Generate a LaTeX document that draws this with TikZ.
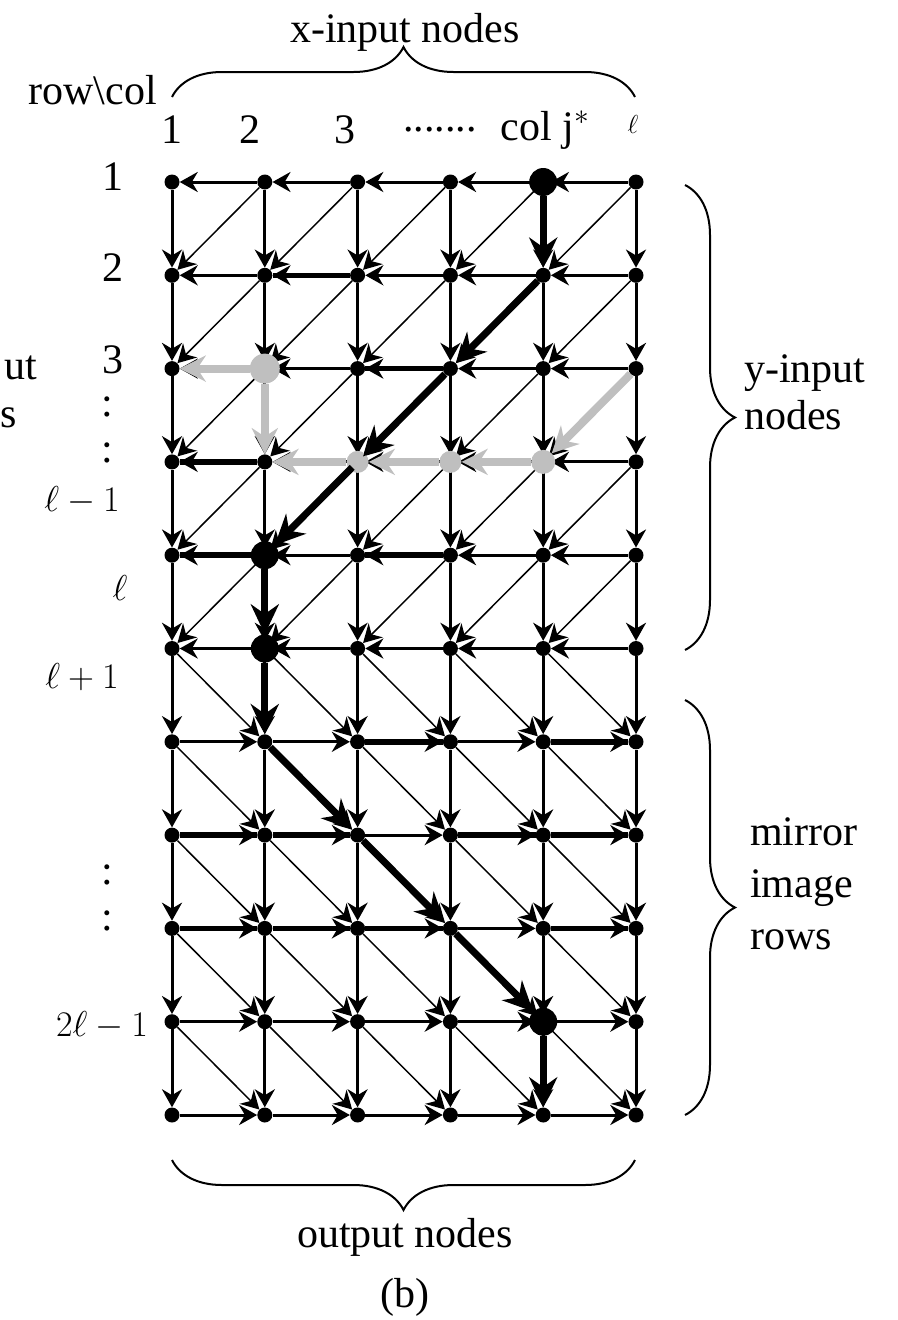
\RequirePackage{fix-cm}
\documentclass[tikz,border=0pt]{standalone}
\usepackage{fontspec}
\setmainfont{Liberation Serif}
\usetikzlibrary{arrows.meta,decorations.pathreplacing}

\begin{document}
\begin{tikzpicture}[x=1pt,y=-1pt,
  vtx/.style={circle,fill=black,inner sep=0pt,minimum size=15pt},
  bigvtx/.style={circle,fill=black,inner sep=0pt,minimum size=28pt},
  grayvtx/.style={circle,fill=black!25,inner sep=0pt,minimum size=#1},
  edge/.style={line width=3pt,-{Stealth[length=18pt,width=20pt]}},
  diag/.style={line width=1.5pt,-{Stealth[length=18pt,width=20pt]}},
  heavy/.style={line width=5.5pt},
  route/.style={line width=7pt,-{Stealth[length=30pt,width=28pt]}},
  grayroute/.style={line width=8pt,black!25,-{Stealth[length=26pt,width=26pt]}},
  brc/.style={decorate,decoration={brace,amplitude=50pt},line width=2pt},
  lbl/.style={font=\fontsize{42}{47}\selectfont,inner sep=0pt}]
  \useasboundingbox (0,0) rectangle (897,1320);

  % grid of nodes
  \foreach \r in {1,...,11}
    \foreach \c in {1,...,6}
      \node[vtx] (n-\r-\c) at ({172+92.8*(\c-1)},{182+93.3*(\r-1)}) {};

  % vertical edges
  \foreach \r [evaluate=\r as \s using int(\r+1)] in {1,...,10}
    \foreach \c in {1,...,6}
      \draw[edge] (n-\r-\c) -- (n-\s-\c);
  % horizontal edges, upper rows right to left, mirror rows left to right
  \foreach \c [evaluate=\c as \d using int(\c+1)] in {1,...,5}{
    \foreach \r in {1,...,6}
      \draw[edge] (n-\r-\d) -- (n-\r-\c);
    \foreach \r in {7,...,11}
      \draw[edge] (n-\r-\c) -- (n-\r-\d);
  }
  % diagonal edges
  \foreach \c [evaluate=\c as \d using int(\c+1)] in {1,...,5}{
    \foreach \r [evaluate=\r as \s using int(\r+1)] in {1,...,5}
      \draw[diag] (n-\r-\d) -- (n-\s-\c);
    \foreach \r [evaluate=\r as \s using int(\r+1)] in {6,...,10}
      \draw[diag] (n-\r-\c) -- (n-\s-\d);
  }
  % heavier horizontal links
  \foreach \r/\c/\d in {2/2/3,3/3/4,4/1/2,5/1/2,5/3/4,7/3/4,7/5/6,8/1/2,8/2/3,
                        8/4/5,8/5/6,9/1/2,9/2/3,9/3/4,9/5/6}
    \draw[heavy] (n-\r-\c) -- (n-\r-\d);

  % grey route
  \node[grayvtx=30pt] (g-3-2) at (n-3-2) {};
  \node[grayvtx=22pt] (g-4-3) at (n-4-3) {};
  \node[grayvtx=22pt] (g-4-4) at (n-4-4) {};
  \node[grayvtx=24pt] (g-4-5) at (n-4-5) {};
  \draw[grayroute] (g-3-2) -- (n-3-1);
  \draw[grayroute] (g-3-2) -- (n-4-2);
  \draw[grayroute] (n-3-6) -- (g-4-5);
  \draw[grayroute] (g-4-5) -- (g-4-4);
  \draw[grayroute] (g-4-4) -- (g-4-3);
  \draw[grayroute] (g-4-3) -- (n-4-2);

  % black route
  \node[bigvtx] (b-1-5) at (n-1-5) {};
  \node[bigvtx] (b-5-2) at (n-5-2) {};
  \node[bigvtx] (b-6-2) at (n-6-2) {};
  \node[bigvtx] (b-10-5) at (n-10-5) {};
  \draw[route] (b-1-5) -- (n-2-5);
  \draw[route] (n-2-5) -- (n-3-4);
  \draw[route] (n-3-4) -- (n-4-3);
  \draw[route] (n-4-3) -- (b-5-2);
  \draw[route] (b-5-2) -- (b-6-2);
  \draw[route] (b-6-2) -- (n-7-2);
  \draw[route] (n-7-2) -- (n-8-3);
  \draw[route] (n-8-3) -- (n-9-4);
  \draw[route] (n-9-4) -- (b-10-5);
  \draw[route] (b-10-5) -- (n-11-5);

  % braces
  \draw[brc] (172,97) -- (635,97);
  \draw[brc] (685,185) -- (685,650);
  \draw[brc] (685,700) -- (685,1115);
  \draw[brc] (635,1160) -- (172,1160);

  % labels
  \node[lbl] (xin) at (405,32) {x-input nodes};
  \node[lbl,anchor=east] (rc) at (157,90) {row\textbackslash col};
  \node[lbl] (c1) at (172,130) {1};
  \node[lbl] (c2) at (250,130) {2};
  \node[lbl] (c3) at (345,130) {3};
  \node[lbl] (cdots) at (440,130) {.......};
  \node[lbl] (cj) at (545,130) {col j$^*$};
  \node[lbl,font=\fontsize{26}{30}\selectfont] (cl) at (633,124) {$\ell$};
  \node[lbl] (r1) at (113,177) {1};
  \node[lbl] (r2) at (113,268) {2};
  \node[lbl] (r3) at (113,360) {3};
  \node[lbl] (rd1) at (107,407) {:};
  \node[lbl] (rd2) at (107,453) {:};
  \node[lbl,font=\fontsize{36}{40}\selectfont] (rlm) at (82,500) {$\ell-1$};
  \node[lbl,font=\fontsize{36}{40}\selectfont] (rl) at (120,588) {$\ell$};
  \node[lbl,font=\fontsize{36}{40}\selectfont] (rlp) at (82,677) {$\ell+1$};
  \node[lbl] (rd3) at (107,875) {:};
  \node[lbl] (rd4) at (107,921) {:};
  \node[lbl,font=\fontsize{36}{40}\selectfont] (r2l) at (102,1025) {$2\ell-1$};
  \node[lbl,anchor=west,align=left] (yin) at (744,392) {y-input\\nodes};
  \node[lbl,anchor=west,align=left,font=\fontsize{42}{52}\selectfont] (mir) at (750,884) {mirror\\image\\rows};
  \node[lbl] (out) at (405,1237) {output nodes};
  \node[lbl] (pb) at (405,1297) {(b)};
  \node[lbl,anchor=east] (cut1) at (37,368) {ut};
  \node[lbl,anchor=west] (cut2) at (0,418) {s};
\end{tikzpicture}
\end{document}
